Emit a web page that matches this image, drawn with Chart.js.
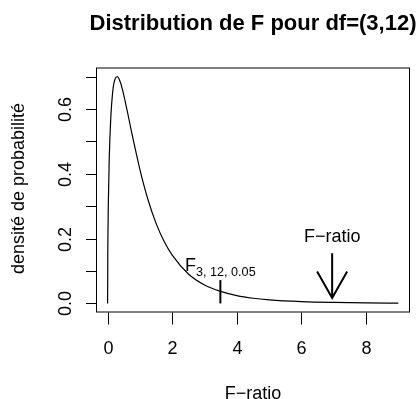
<!DOCTYPE html>
<html>
<head>
<meta charset="utf-8">
<script src="https://cdn.jsdelivr.net/npm/chart.js@4/dist/chart.umd.min.js"></script>
<style>
  html, body { margin: 0; padding: 0; background: #fff; }
  canvas { display: block; }
</style>
</head>
<body>
<canvas id="graphique" width="417" height="399"></canvas>
<script>
const fRatio = [0, 0.005, 0.01, 0.02, 0.05, 0.1, 0.15, 0.2, 0.3, 0.4, 0.5, 0.6, 0.75, 1, 1.25, 1.5, 1.75, 2, 2.5, 3, 3.5, 4, 4.5, 5, 6, 7, 8, 9];
const densite = [0, 0.154, 0.216, 0.300, 0.448, 0.578, 0.646, 0.682, 0.700, 0.681, 0.643, 0.597, 0.525, 0.413, 0.320, 0.247, 0.191, 0.149, 0.091, 0.057, 0.037, 0.024, 0.016, 0.011, 0.0056, 0.0030, 0.0016, 0.0010];

const xTicks = [0, 2, 4, 6, 8];
const yTicks = [0, 0.1, 0.2, 0.3, 0.4, 0.5, 0.6, 0.7];
const yTickLabels = ["0.0", "", "0.2", "", "0.4", "", "0.6", ""];

const titre = "Distribution de F pour df=(3,12)";
const titreX = "F\u2212ratio";
const titreY = "densité de probabilité";

const fCritique = 3.49;      // F 3,12,0.05
const fObserve = 6.95;       // flèche "F-ratio"

const police = "'Liberation Sans', Arial, Helvetica, sans-serif";

// dessine le cadre, les axes et les annotations à la manière de R
const decorR = {
    id: 'decorR',
    afterDraw(chart) {
        const ctx = chart.ctx;
        const area = chart.chartArea;
        const sx = chart.scales.x;
        const sy = chart.scales.y;

        ctx.save();
        ctx.strokeStyle = '#000';
        ctx.fillStyle = '#000';
        ctx.lineWidth = 1;

        // cadre
        ctx.strokeRect(area.left + 0.5, area.top + 0.5, area.right - area.left - 1, area.bottom - area.top - 1);

        // axe x
        ctx.font = '18px ' + police;
        ctx.textAlign = 'center';
        ctx.textBaseline = 'alphabetic';
        xTicks.forEach(v => {
            const px = Math.round(sx.getPixelForValue(v)) + 0.5;
            ctx.beginPath();
            ctx.moveTo(px, area.bottom);
            ctx.lineTo(px, area.bottom + 12);
            ctx.stroke();
            ctx.fillText(String(v), px, 354);
        });

        // axe y
        yTicks.forEach((v, i) => {
            const py = Math.round(sy.getPixelForValue(v)) + 0.5;
            ctx.beginPath();
            ctx.moveTo(area.left, py);
            ctx.lineTo(area.left - 10, py);
            ctx.stroke();
            if (yTickLabels[i]) {
                ctx.save();
                ctx.translate(70.5, py);
                ctx.rotate(-Math.PI / 2);
                ctx.fillText(yTickLabels[i], 0, 0);
                ctx.restore();
            }
        });

        // titres
        ctx.font = 'bold 22px ' + police;
        ctx.fillText(titre, (area.left + area.right) / 2, 29.5);
        ctx.font = '18px ' + police;
        ctx.fillText(titreX, (area.left + area.right) / 2, 398.5);
        ctx.save();
        ctx.translate(23.5, (area.top + area.bottom) / 2 - 1.5);
        ctx.rotate(-Math.PI / 2);
        ctx.fillText(titreY, 0, 0);
        ctx.restore();

        // valeur critique
        const xc = sx.getPixelForValue(fCritique);
        ctx.lineWidth = 2;
        ctx.beginPath();
        ctx.moveTo(xc, sy.getPixelForValue(0));
        ctx.lineTo(xc, sy.getPixelForValue(0.072));
        ctx.stroke();

        const grand = '18px ' + police;
        const petit = '12.6px ' + police;
        ctx.font = grand;
        const wF = ctx.measureText('F').width;
        ctx.font = petit;
        const indice = '3, 12, 0.05';
        const wI = ctx.measureText(indice).width;
        const x0 = xc - (wF + wI) / 2;
        const yb = sy.getPixelForValue(0.099);
        ctx.textAlign = 'left';
        ctx.font = grand;
        ctx.fillText('F', x0, yb);
        ctx.font = petit;
        ctx.fillText(indice, x0 + wF, yb + 4.5);

        // flèche F-ratio
        const xa = sx.getPixelForValue(fObserve);
        const yHaut = sy.getPixelForValue(0.155);
        const yPointe = sy.getPixelForValue(0.017);
        ctx.beginPath();
        ctx.moveTo(xa, yHaut);
        ctx.lineTo(xa, yPointe);
        ctx.moveTo(xa - 15, yPointe - 26.5);
        ctx.lineTo(xa, yPointe);
        ctx.lineTo(xa + 15, yPointe - 26.5);
        ctx.stroke();

        ctx.textAlign = 'center';
        ctx.font = grand;
        ctx.fillText(titreX, xa, sy.getPixelForValue(0.19));

        ctx.restore();
    }
};

new Chart(document.getElementById('graphique'), {
    type: 'line',
    data: {
        datasets: [{
            data: fRatio.map((x, i) => ({ x: x, y: densite[i] })),
            borderColor: '#000',
            borderWidth: 1.2,
            pointRadius: 0,
            fill: false,
            cubicInterpolationMode: 'monotone'
        }]
    },
    options: {
        responsive: false,
        animation: false,
        devicePixelRatio: 1,
        layout: {
            padding: { left: 96, right: 7, top: 67.5, bottom: 86.5 }
        },
        plugins: {
            legend: { display: false },
            tooltip: { enabled: false }
        },
        scales: {
            x: { type: 'linear', min: -0.36, max: 9.36, display: false },
            y: { type: 'linear', min: -0.028, max: 0.728, display: false }
        }
    },
    plugins: [decorR]
});
</script>
</body>
</html>
